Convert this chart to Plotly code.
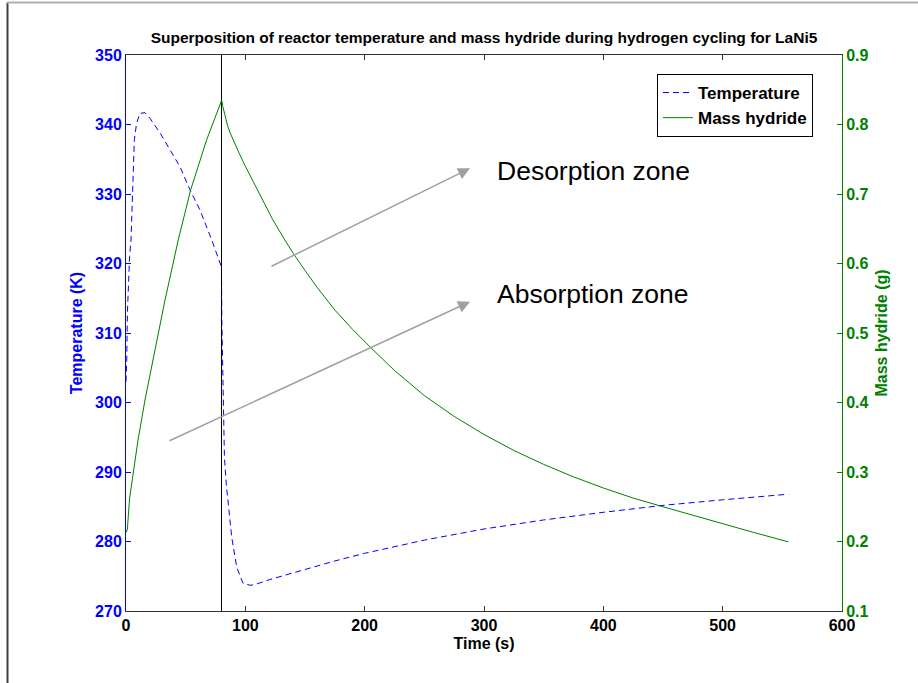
import plotly.graph_objects as go

# ---------------- data ----------------
temp_time = [0, 0.6, 1.2, 2, 3, 4.2, 5.3, 7, 8.9, 11.7, 15.9, 20, 28.5, 36.9, 45.3, 53.6, 62, 71.8, 78.8,
             80, 80.3, 80.6, 81, 82.5, 84, 86, 88.6, 92.8, 98, 104, 108, 120, 146, 175, 200, 250,
             300, 350, 400, 450, 500, 555]
temp_vals = [303, 306, 313, 318, 321, 323.4, 329.6, 337.8, 340.2, 341.6, 341.7, 340.9, 338.8, 336.3, 333.9,
             330.6, 327.7, 323.4, 320.1,
             319.5, 312, 309.4, 303.2, 292, 288.3, 284.5, 280.6, 276.3, 274.0, 273.7, 273.8, 274.5, 275.8,
             277.2, 278.3, 280.2, 281.8, 283.1, 284.2, 285.2, 286.0, 286.8]

mass_time = [0, 0.5, 1.1, 3, 6.1, 10, 15.9, 24.3, 32.7, 43.8, 54.2, 67.6, 80.2,
             81, 82, 83.5, 85, 87, 90, 95, 100, 110, 123, 133, 140, 150, 160, 175, 190, 204.5,
             225, 250, 275, 300, 325, 350, 375, 400, 425, 450, 475, 500, 525, 555]
mass_vals = [0.213, 0.216, 0.2166, 0.262, 0.298, 0.345, 0.4036, 0.4755, 0.5475, 0.634, 0.706, 0.778, 0.835,
             0.827, 0.819, 0.808, 0.799, 0.789, 0.777, 0.758, 0.740, 0.707, 0.663, 0.634, 0.615, 0.590,
             0.566, 0.533, 0.505, 0.480, 0.446, 0.410, 0.380, 0.354, 0.331, 0.311, 0.293, 0.277, 0.2625,
             0.250, 0.2375, 0.2255, 0.2135, 0.1995]

switch_time = 80  # end of absorption step (vertical marker)

x_ticks = [0, 100, 200, 300, 400, 500, 600]
temp_ticks = [270, 280, 290, 300, 310, 320, 330, 340, 350]
mass_ticks = [0.1, 0.2, 0.3, 0.4, 0.5, 0.6, 0.7, 0.8, 0.9]

# zone annotations
zone_labels = ["Desorption zone", "Absorption zone"]
zone_text_x = [309.5, 309.5]
zone_text_y = [333.3, 315.6]
zone_tail_x = [120.7, 35.2]
zone_tail_y = [319.5, 294.4]
zone_tip_x = [288.3, 288.3]
zone_tip_y = [333.7, 314.5]

# ---------------- figure ----------------
BLUE = "#0000ff"
GREEN = "#008000"
FONT = "Arial, Liberation Sans, sans-serif"

fig = go.Figure()
fig.add_trace(go.Scatter(x=temp_time, y=temp_vals, mode="lines", name="Temperature",
                         line=dict(color=BLUE, width=1, dash="6px,4px"), yaxis="y"))
fig.add_trace(go.Scatter(x=mass_time, y=mass_vals, mode="lines", name="Mass hydride",
                         line=dict(color=GREEN, width=1), yaxis="y2"))
fig.add_trace(go.Scatter(x=[switch_time, switch_time], y=[temp_ticks[0], temp_ticks[-1]], mode="lines",
                         line=dict(color="black", width=1), showlegend=False, hoverinfo="skip", yaxis="y"))

for lab, tx, ty, ax0, ay0, hx, hy in zip(zone_labels, zone_text_x, zone_text_y,
                                          zone_tail_x, zone_tail_y, zone_tip_x, zone_tip_y):
    fig.add_annotation(x=hx, y=hy, ax=ax0, ay=ay0, xref="x", yref="y", axref="x", ayref="y",
                       showarrow=True, arrowhead=2, arrowsize=1.6, arrowwidth=1.5,
                       arrowcolor="#a0a0a0", text="")
    fig.add_annotation(x=tx, y=ty, xref="x", yref="y", text=lab, showarrow=False,
                       xanchor="left", yanchor="middle",
                       font=dict(family=FONT, size=26.5, color="black"))

# frame lines of the original figure window
fig.add_shape(type="line", xref="paper", yref="paper", x0=-0.1655, x1=-0.1655, y0=1.0945, y1=-0.14,
              line=dict(color="#404040", width=2))
fig.add_shape(type="line", xref="paper", yref="paper", x0=-0.1662, x1=1.11, y0=1.0945, y1=1.0945,
              line=dict(color="#b0b0b0", width=2))

fig.update_layout(
    width=918, height=683,
    margin=dict(l=126, r=76, t=55, b=72),
    paper_bgcolor="white", plot_bgcolor="white",
    font=dict(family=FONT),
    title=dict(text="Superposition of reactor temperature and mass hydride during hydrogen cycling for LaNi5",
               x=0.5, xref="paper", xanchor="center", y=1 - 38 / 683, yanchor="middle",
               font=dict(family=FONT, size=15.5, color="black", weight="bold")),
    xaxis=dict(range=[0, 600], tickvals=x_ticks, ticks="inside", ticklen=5, tickcolor="#333",
               showline=True, linecolor="#333", linewidth=1, mirror="ticks", showgrid=False, zeroline=False,
               tickfont=dict(family=FONT, size=16, color="black", weight="bold"),
               title=dict(text="Time (s)", font=dict(family=FONT, size=16, color="black", weight="bold"),
                          standoff=4)),
    yaxis=dict(range=[270, 350], tickvals=temp_ticks, ticks="inside", ticklen=5, tickcolor=BLUE,
               showline=True, linecolor=BLUE, linewidth=1, showgrid=False, zeroline=False,
               tickfont=dict(family=FONT, size=16, color=BLUE, weight="bold"),
               title=dict(text="Temperature (K)", font=dict(family=FONT, size=16, color=BLUE, weight="bold"),
                          standoff=8)),
    yaxis2=dict(range=[0.1, 0.9], tickvals=mass_ticks, ticktext=[f"{v:g}" for v in mass_ticks],
                overlaying="y", side="right", ticks="inside", ticklen=5, tickcolor=GREEN,
                showline=True, linecolor=GREEN, linewidth=1, showgrid=False, zeroline=False,
                tickfont=dict(family=FONT, size=16, color=GREEN, weight="bold"),
                title=dict(text="Mass hydride (g)", font=dict(family=FONT, size=16, color=GREEN, weight="bold"),
                           standoff=8)),
    legend=dict(x=0.7416, y=0.9658, xanchor="left", yanchor="top", bgcolor="white",
                bordercolor="black", borderwidth=1, tracegroupgap=0, itemwidth=30,
                font=dict(family=FONT, size=17, color="black", weight="bold")),
    showlegend=True,
)

fig.write_html("out.html")
